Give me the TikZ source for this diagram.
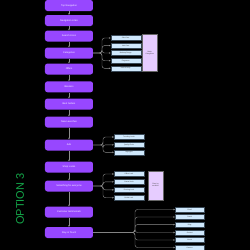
\documentclass[tikz,border=0pt]{standalone}
\usepackage{fontspec}
\setmainfont{Liberation Sans}
\usepackage{tikz}
\usetikzlibrary{positioning,calc,arrows.meta}
\definecolor{optpurple}{HTML}{9747FF}
\definecolor{subblue}{HTML}{CFE8FC}
\definecolor{subedge}{HTML}{3A4A58}
\definecolor{grouplilac}{HTML}{E6CCFF}
\definecolor{linkgray}{HTML}{8E8E8E}
\definecolor{optgreen}{HTML}{14A84A}
\tikzset{mainbox/.style={fill=optpurple,rounded corners=2.5pt,minimum width=48pt,minimum height=11pt,inner sep=0pt,text=white,font=\fontsize{2.4}{3}\selectfont},
 subbox/.style={fill=subblue,draw=subedge,line width=0.35pt,minimum width=30pt,minimum height=4.8pt,inner sep=0pt,text=black!75,font=\fontsize{1.7}{2}\selectfont},
 groupbox/.style={fill=grouplilac,draw=black!60,line width=0.3pt,inner sep=0pt,align=center,text=black!75,font=\fontsize{1.7}{2.1}\selectfont},
 link/.style={draw=linkgray,line width=0.4pt,-{Stealth[length=1.6pt,width=1.6pt]}},
 branch/.style={link,rounded corners=2.5pt}}

\begin{document}
\begin{tikzpicture}[x=1pt,y=-1pt]
 	   		\fill[black] (0,0) rectangle (250,250);
 	   		\useasboundingbox (0,0) rectangle (250,250);
 	   		% main column
 	   		\foreach \n/\y/\t in {1/5.5/Top Navigation,2/20.5/Navigation Links,3/36/Search Icons,4/53/Categories,
 	   		       5/69/Offers,6/86.8/Banners,7/104/Best Sellers,8/122/New Launches,9/145/Ads,
 	   		       10/167/Shop Looks,11/186/Something for everyone,12/212/Customer testimonials,13/232.5/Stay in Touch}
 	   		    \node[mainbox] (m\n) at (69,\y) {\t};
 	   		\foreach \a/\b in {1/2,2/3,3/4,4/5,5/6,6/7,7/8,8/9,9/10,10/11,11/12,12/13}
 	   		    \draw[link] (m\a) -- (m\b);
 	   		% categories
 	   		\foreach \n/\y/\t in {1/38/Skin Care,2/45.6/Hair Care,3/53/Makeup Range,4/60.7/Fragrance,5/68.3/Bath \& Body}
 	   		    \node[subbox] (c\n) at (125.7,\y) {\t};
 	   		\node[groupbox,minimum width=15pt,minimum height=37pt] (cg) at (149.8,52.8) {Major\\Categories};
 	   		\coordinate (j4) at (102,53);
 	   		\foreach \n in {1,...,5}
 	   		    \draw[branch] (m4.east) -- (j4) |- (c\n.west);
 	   		% ads
 	   		\foreach \n/\y/\t in {1/137/Trending Looks,2/144.8/Quality Picks,3/152.3/Highlights}
 	   		    \node[subbox] (a\n) at (129,\y) {\t};
 	   		\coordinate (j9) at (103,145);
 	   		\foreach \n in {1,2,3}
 	   		    \draw[branch] (m9.east) -- (j9) |- (a\n.west);
 	   		% something for everyone
 	   		\foreach \n/\y/\t in {1/174/Office Look,2/181.8/Casual Look,3/189.9/Evening Look,4/197.7/Bridal Look}
 	   		    \node[subbox] (s\n) at (129,\y) {\t};
 	   		\node[groupbox,minimum width=14.4pt,minimum height=28.7pt] (sg) at (155.5,185.3) {Shop by\\occasion};
 	   		\coordinate (j11) at (103,186);
 	   		\foreach \n in {1,...,4}
 	   		    \draw[branch] (m11.east) -- (j11) |- (s\n.west);
 	   		% stay in touch
 	   		\foreach \n/\y/\t in {1/209.5/Email,2/217/Social,3/224.6/Blog,4/232.5/Contact,5/240/About,6/247.5/Careers}
 	   		    \node[subbox,minimum width=29.3pt] (t\n) at (189.7,\y) {\t};
 	   		\coordinate (j13) at (135,232.5);
 	   		\foreach \n in {1,...,6}
 	   		    \draw[branch] (m13.east) -- (j13) |- (t\n.west);
 	   		\node[rotate=90,text=optgreen,font=\fontsize{11}{12}\selectfont] (opt) at (20,199) {OPTION 3};
\end{tikzpicture}
\end{document}
